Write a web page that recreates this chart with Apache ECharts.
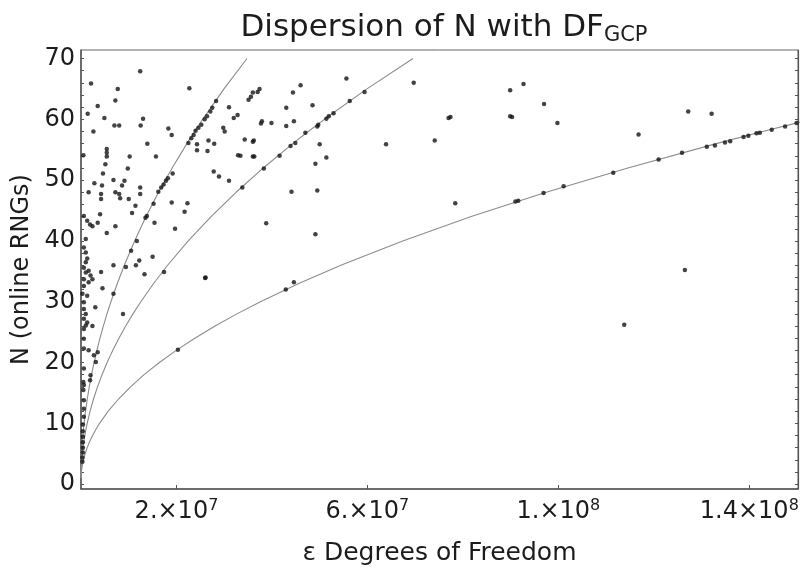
<!DOCTYPE html>
<html><head><meta charset="utf-8">
<script src="https://cdn.jsdelivr.net/npm/echarts@6/dist/echarts.min.js"></script>
<style>html,body{margin:0;padding:0;background:#fff}#c{width:802px;height:571px}</style>
</head><body><div id="c"></div>
<script>
// x values in units of 10^6 degrees of freedom, N = online RNGs
const pointX = [
12.4,2.1,7.7,7.2,3.5,1.4,4.9,7.0,8.0,13.0,12.5,2.6,18.3,19.0,13.9,5.4,5.4,5.4,0.5,10.2,15.7,5.1,9.8,4.6,6.8,9.1,2.8,4.4,8.6,1.6,7.2,8.0,4.2,4.2,12.4,12.4,10.0,11.4,19.0,22.3,8.2,
10.7,21.7,4.0,0.6,1.3,1.9,2.4,3.5,7.2,15.4,5.4,19.7,15.0,12.2,11.5,6.8,13.3,4.2,26.0,4.5,3.0,8.8,2.4,3.5,
15.2,16.2,16.8,17.3,17.8,18.2,19.2,22.5,23.1,23.6,24.0,24.6,25.2,25.9,26.4,27.1,27.5,28.3,13.5,13.8,11.7,10.5,9.4,6.8,
24.3,24.3,26.7,27.9,26.5,31.0,32.0,32.8,35.1,35.6,36.0,37.0,37.4,29.8,30.1,32.9,33.4,27.8,28.9,31.0,36.0,36.3,37.9,37.7,39.9,38.8,26.1,22.7,34.3,36.2,36.0,
46.0,44.4,55.6,69.7,43.0,48.5,43.0,44.6,50.0,49.1,51.4,44.1,49.5,49.1,63.9,74.1,44.6,42.9,
59.4,56.3,52.9,51.9,51.4,49.7,49.5,47.0,43.9,44.9,41.6,38.3,33.8,17.4,
77.4,77.0,78.4,89.9,92.7,90.3,89.9,97.0,99.8,116.8,127.2,132.1,126.5,113.8,
91.0,91.6,96.9,101.1,111.5,121.0,125.9,131.1,132.8,134.9,136.0,138.8,139.8,141.5,142.2,144.7,147.5,149.9,20.3,
1.0,0.6,1.0,1.3,1.0,0.6,1.6,1.0,2.0,2.4,0.6,1.6,0.6,0.3,1.3,0.6,0.6,1.0,0.6,1.3,1.0,0.6,0.6,0.6,1.6,2.7,3.1,2.0,1.9,0.6,0.6,0.6,0.6,0.6,0.4,0.4,0.4,0.4,0.4,0.4,0.3,0.3,0.5,0.5
];
const pointN = [
67.9,65.9,65.0,63.1,62.2,60.9,60.2,59.0,59.0,60.1,59.0,58.0,58.5,57.4,56.0,55.1,54.5,53.9,54.1,53.9,53.9,52.6,51.9,51.1,50.0,49.9,49.5,49.1,49.1,48.0,48.0,47.7,47.7,46.9,48.8,47.7,46.9,45.8,46.3,46.2,47.0,
44.6,44.8,44.4,44.1,43.3,42.7,42.4,43.0,42.4,43.0,41.3,42.0,37.4,36.8,36.0,36.0,34.5,34.9,33.9,32.2,29.1,28.0,26.0,21.7,
46.1,48.1,48.8,49.3,49.9,50.3,51.1,56.1,56.9,57.4,58.1,58.6,59.1,60.0,60.5,61.3,61.9,63.0,43.8,44.1,40.0,38.4,35.7,31.3,
55.9,54.9,56.5,56.0,54.8,62.0,60.2,60.7,63.2,63.7,64.4,64.5,65.0,58.6,58.0,54.1,54.0,51.4,50.6,49.9,53.9,53.9,59.7,59.3,59.4,42.9,34.0,65.1,56.7,56.5,56.3,
65.6,64.4,66.7,66.0,61.9,62.3,58.9,59.7,55.9,52.7,53.7,48.1,48.3,41.1,55.9,56.5,33.2,32.0,
64.5,63.0,61.0,60.5,60.1,59.1,58.8,57.8,55.6,56.1,54.0,51.9,48.8,34.9,
60.4,60.2,46.2,64.8,65.8,60.4,60.5,62.5,59.4,57.5,61.3,60.9,35.2,26.2,
46.5,46.6,47.9,49.0,51.2,53.4,54.5,55.5,55.7,56.2,56.4,57.1,57.3,57.7,57.8,58.3,58.8,59.4,22.1,
40.3,38.9,38.1,37.1,36.5,35.6,35.1,34.8,34.3,33.7,33.7,33.2,32.6,31.3,31.0,29.9,28.8,28.0,27.2,26.6,26.1,25.5,23.9,22.3,22.0,21.2,20.1,17.9,17.1,19.0,16.3,13.8,12.4,11.1,9.8,8.7,7.8,6.9,6.0,5.2,4.4,3.7,15.5,16.8
];
// reference curves (N vs DF, in 10^6)
const curveN       = [1, 2, 3, 4, 5, 6, 7, 8, 9, 10, 12, 14, 16, 18, 20, 22, 24, 26, 28, 30, 33, 36, 40, 44, 48, 52, 56, 58, 60, 65, 70];
const curveUpperX  = [0, 0.0144, 0.0432, 0.0864, 0.144, 0.216, 0.3024, 0.4032, 0.5184, 0.648, 0.9504, 1.3104, 1.728, 2.2032, 2.736, 3.3264, 3.9744, 4.68, 5.4432, 6.264, 7.6032, 9.072, 11.232, 13.6224, 16.2432, 19.0944, 22.176, 23.8032, 25.488, 29.952, 34.776];
const curveMiddleX = [0, 0.0288, 0.0864, 0.1728, 0.288, 0.432, 0.6048, 0.8064, 1.0368, 1.296, 1.9008, 2.6208, 3.456, 4.4064, 5.472, 6.6528, 7.9488, 9.36, 10.8864, 12.528, 15.2064, 18.144, 22.464, 27.2448, 32.4864, 38.1888, 44.352, 47.6064, 50.976, 59.904, 69.552];
const curveLowerX  = [0, 0.0864, 0.2592, 0.5184, 0.864, 1.296, 1.8144, 2.4192, 3.1104, 3.888, 5.7024, 7.8624, 10.368, 13.2192, 16.416, 19.9584, 23.8464, 28.08, 32.6592, 37.584, 45.6192, 54.432, 67.392, 81.7344, 97.4592, 114.5664, 133.056, 142.8192, 152.928, 179.712, 208.656];

const xTickValues = [20, 60, 100, 140];
const xTickMantissa = ['2.', '6.', '1.', '1.4'];
const xTickExponent = ['7', '7', '8', '8'];
const yTickValues = [0, 10, 20, 30, 40, 50, 60, 70];
const yMinorTicks = [0,2,4,6,8,10,12,14,16,18,20,22,24,26,28,30,32,34,36,38,40,42,44,46,48,50,52,54,56,58,60,62,64,66,68,70];

const FONT = 'DejaVu Sans';
const AX = '#555';
const TXT = '#1c1c1c';

function pairs(xs, ys) { return xs.map((x, i) => [x, ys[i]]); }

const chart = echarts.init(document.getElementById('c'), null, {renderer: 'canvas'});
const curveStyle = {type: 'line', showSymbol: false, smooth: false, silent: true, clip: true,
  lineStyle: {color: '#8c8c8c', width: 1.1}, z: 2};

chart.setOption({
  animation: false,
  backgroundColor: '#fff',
  title: {
    text: '{m|Dispersion of N with DF}{s|GCP}',
    left: 439, top: 4, textAlign: 'center',
    textStyle: {
      fontWeight: 'normal',
      rich: {
        m: {fontFamily: FONT, fontSize: 31, fontWeight: 'normal', color: TXT, lineHeight: 37},
        s: {fontFamily: FONT, fontSize: 21, fontWeight: 'normal', color: TXT, lineHeight: 8, verticalAlign: 'bottom'}
      }
    }
  },
  grid: {left: 81, right: 4, top: 50, bottom: 80, show: true, borderColor: '#666', borderWidth: 1, backgroundColor: '#fff'},
  xAxis: {
    type: 'value', min: 0, max: 150.2,
    axisLine: {show: true, onZero: false, lineStyle: {color: AX, width: 1.5}},
    axisTick: {show: true, inside: true, length: 4, customValues: xTickValues, lineStyle: {color: AX}},
    splitLine: {show: false},
    axisLabel: {
      customValues: xTickValues, margin: 9,
      formatter: function (v) {
        const i = xTickValues.indexOf(v);
        return i < 0 ? '' : '{m|' + xTickMantissa[i] + '×10}{e|' + xTickExponent[i] + '}';
      },
      rich: {
        m: {fontFamily: FONT, fontSize: 24, color: TXT, lineHeight: 27},
        e: {fontFamily: FONT, fontSize: 16, color: TXT, lineHeight: 14, verticalAlign: 'top'}
      }
    },
    name: 'ε Degrees of Freedom', nameLocation: 'middle', nameGap: 52,
    nameTextStyle: {fontFamily: FONT, fontSize: 25, color: TXT}
  },
  yAxis: [{
    type: 'value', min: -0.8, max: 71.4, position: 'left',
    axisLine: {show: true, onZero: false, lineStyle: {color: AX, width: 1.5}},
    axisTick: {show: true, inside: true, length: 3, customValues: yMinorTicks, lineStyle: {color: AX}},
    splitLine: {show: false},
    axisLabel: {customValues: yTickValues, margin: 6, fontFamily: FONT, fontSize: 24, color: TXT},
    name: 'N (online RNGs)', nameLocation: 'middle', nameGap: 46, nameRotate: 90,
    nameTextStyle: {fontFamily: FONT, fontSize: 24, color: TXT}
  }, {
    type: 'value', min: -0.8, max: 71.4, position: 'right',
    axisLine: {show: true, onZero: false, lineStyle: {color: AX, width: 1.2}},
    axisTick: {show: true, inside: true, length: 3, customValues: yMinorTicks, lineStyle: {color: AX}},
    splitLine: {show: false},
    axisLabel: {show: false}
  }],
  series: [
    Object.assign({name: '4h', data: pairs(curveUpperX, curveN)}, curveStyle),
    Object.assign({name: '8h', data: pairs(curveMiddleX, curveN)}, curveStyle),
    Object.assign({name: '24h', data: pairs(curveLowerX, curveN)}, curveStyle),
    {
      name: 'runs', type: 'scatter', data: pairs(pointX, pointN),
      symbol: 'circle', symbolSize: 4.5, z: 5, silent: true,
      itemStyle: {color: '#141414'}
    }
  ]
});
</script>
</body></html>
